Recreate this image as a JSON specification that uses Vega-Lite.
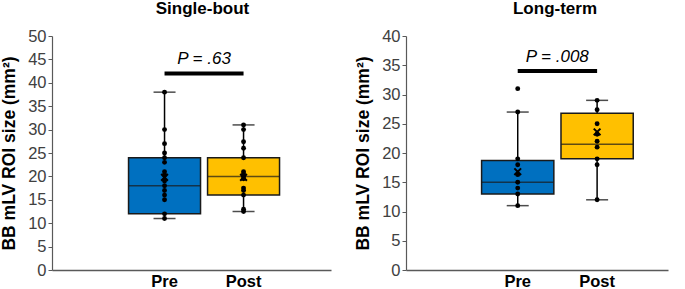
{
  "$schema": "https://vega.github.io/schema/vega-lite/v6.json",
  "background": "white",
  "padding": {"left": 0, "top": 0, "right": 5, "bottom": 0},
  "spacing": 23,
  "config": {
    "font": "Liberation Sans",
    "view": {"stroke": null},
    "axisY": {"grid": false, "domainColor": "#595959", "tickColor": "#595959", "tickSize": 4, "labelFont": "Liberation Sans", "labelFontSize": 16.5, "labelColor": "#404040", "labelPadding": 2, "titleFont": "Liberation Sans", "titleFontSize": 17.5, "titleFontWeight": "bold", "titleColor": "black", "titlePadding": 9, "domainWidth": 1.2},
    "axisX": {"grid": false, "domainColor": "#595959", "ticks": false, "labelFont": "Liberation Sans", "labelFontSize": 16.5, "labelFontWeight": "bold", "labelColor": "black", "labelPadding": 3, "labelAngle": 0, "title": null, "domainWidth": 1.5},
    "title": {"font": "Liberation Sans", "fontSize": 17, "fontWeight": "bold", "color": "black", "anchor": "middle"}
  },
  "datasets": {
    "pts": [
      {"panel": "Single-bout", "group": "Pre", "value": 38},
      {"panel": "Single-bout", "group": "Pre", "value": 30},
      {"panel": "Single-bout", "group": "Pre", "value": 27},
      {"panel": "Single-bout", "group": "Pre", "value": 25},
      {"panel": "Single-bout", "group": "Pre", "value": 24},
      {"panel": "Single-bout", "group": "Pre", "value": 23},
      {"panel": "Single-bout", "group": "Pre", "value": 21},
      {"panel": "Single-bout", "group": "Pre", "value": 20.3},
      {"panel": "Single-bout", "group": "Pre", "value": 19},
      {"panel": "Single-bout", "group": "Pre", "value": 18},
      {"panel": "Single-bout", "group": "Pre", "value": 17},
      {"panel": "Single-bout", "group": "Pre", "value": 16},
      {"panel": "Single-bout", "group": "Pre", "value": 15},
      {"panel": "Single-bout", "group": "Pre", "value": 12},
      {"panel": "Single-bout", "group": "Pre", "value": 11},
      {"panel": "Single-bout", "group": "Post", "value": 31},
      {"panel": "Single-bout", "group": "Post", "value": 30},
      {"panel": "Single-bout", "group": "Post", "value": 27.4},
      {"panel": "Single-bout", "group": "Post", "value": 26},
      {"panel": "Single-bout", "group": "Post", "value": 24},
      {"panel": "Single-bout", "group": "Post", "value": 21},
      {"panel": "Single-bout", "group": "Post", "value": 20.5},
      {"panel": "Single-bout", "group": "Post", "value": 20},
      {"panel": "Single-bout", "group": "Post", "value": 19.5},
      {"panel": "Single-bout", "group": "Post", "value": 17.5},
      {"panel": "Single-bout", "group": "Post", "value": 17},
      {"panel": "Single-bout", "group": "Post", "value": 16},
      {"panel": "Single-bout", "group": "Post", "value": 13},
      {"panel": "Single-bout", "group": "Post", "value": 12.5},
      {"panel": "Long-term", "group": "Pre", "value": 31},
      {"panel": "Long-term", "group": "Pre", "value": 27},
      {"panel": "Long-term", "group": "Pre", "value": 19},
      {"panel": "Long-term", "group": "Pre", "value": 18},
      {"panel": "Long-term", "group": "Pre", "value": 16.3},
      {"panel": "Long-term", "group": "Pre", "value": 15},
      {"panel": "Long-term", "group": "Pre", "value": 14},
      {"panel": "Long-term", "group": "Pre", "value": 13},
      {"panel": "Long-term", "group": "Pre", "value": 11},
      {"panel": "Long-term", "group": "Post", "value": 29},
      {"panel": "Long-term", "group": "Post", "value": 27.4},
      {"panel": "Long-term", "group": "Post", "value": 25},
      {"panel": "Long-term", "group": "Post", "value": 23.2},
      {"panel": "Long-term", "group": "Post", "value": 22},
      {"panel": "Long-term", "group": "Post", "value": 21},
      {"panel": "Long-term", "group": "Post", "value": 19},
      {"panel": "Long-term", "group": "Post", "value": 18},
      {"panel": "Long-term", "group": "Post", "value": 12}
    ],
    "box": [
      {"panel": "Single-bout", "group": "Pre", "min": 11, "q1": 12, "median": 18, "q3": 24, "max": 38, "mean": 19.8},
      {"panel": "Single-bout", "group": "Post", "min": 12.5, "q1": 16, "median": 20, "q3": 24, "max": 31, "mean": 19.8},
      {"panel": "Long-term", "group": "Pre", "min": 11, "q1": 13, "median": 15, "q3": 18.7, "max": 27, "mean": 16.8},
      {"panel": "Long-term", "group": "Post", "min": 12, "q1": 19, "median": 21.5, "q3": 26.8, "max": 29, "mean": 23.6}
    ],
    "pv": [
      {"panel": "Single-bout", "from": "Pre", "to": "Post", "y": 42, "label": "P = .63"},
      {"panel": "Long-term", "from": "Pre", "to": "Post", "y": 34, "label": "P = .008"}
    ]
  },
  "hconcat": [
    {
      "title": {"text": "Single-bout", "dx": 11, "offset": 10},
      "width": 279,
      "height": 234,
      "encoding": {
        "x": {"field": "group", "type": "nominal", "sort": ["Pre", "Post"],
          "scale": {"domain": ["Pre", "Post"], "paddingInner": 0.089, "paddingOuter": 0.81, "align": 0.598}},
        "y": {"type": "quantitative", "scale": {"domain": [0, 50], "nice": false},
          "axis": {"values": [0, 5, 10, 15, 20, 25, 30, 35, 40, 45, 50], "title": "BB mLV ROI size (mm²)"}}
      },
      "layer": [
        {"data": {"name": "box"}, "transform": [{"filter": "datum.panel === 'Single-bout'"}],
          "mark": {"type": "rule", "color": "black", "strokeWidth": 1.5},
          "encoding": {"y": {"field": "min", "type": "quantitative"}, "y2": {"field": "max"}}},
        {"data": {"name": "box"}, "transform": [{"filter": "datum.panel === 'Single-bout'"}],
          "mark": {"type": "tick", "color": "black", "thickness": 1.5, "size": 22},
          "encoding": {"y": {"field": "min", "type": "quantitative"}}},
        {"data": {"name": "box"}, "transform": [{"filter": "datum.panel === 'Single-bout'"}],
          "mark": {"type": "tick", "color": "black", "thickness": 1.5, "size": 22},
          "encoding": {"y": {"field": "max", "type": "quantitative"}}},
        {"data": {"name": "box"}, "transform": [{"filter": "datum.panel === 'Single-bout'"}],
          "mark": {"type": "bar", "stroke": "#1a1a1a", "strokeWidth": 1.5},
          "encoding": {"y": {"field": "q1", "type": "quantitative"}, "y2": {"field": "q3"},
            "color": {"field": "group", "type": "nominal", "scale": {"domain": ["Pre", "Post"], "range": ["#0070C0", "#FFC000"]}, "legend": null}}},
        {"data": {"name": "box"}, "transform": [{"filter": "datum.panel === 'Single-bout'"}],
          "mark": {"type": "tick", "color": "#1a1a1a", "thickness": 1.5, "size": 72},
          "encoding": {"y": {"field": "median", "type": "quantitative"}}},
        {"data": {"name": "pts"}, "transform": [{"filter": "datum.panel === 'Single-bout'"}],
          "mark": {"type": "circle", "color": "black", "opacity": 1, "size": 24},
          "encoding": {"y": {"field": "value", "type": "quantitative"}}},
        {"data": {"name": "box"}, "transform": [{"filter": "datum.panel === 'Single-bout'"}],
          "mark": {"type": "point", "shape": "M-1,-1L1,1M-1,1L1,-1", "filled": false, "color": "black", "strokeWidth": 2, "size": 45, "opacity": 1},
          "encoding": {"y": {"field": "mean", "type": "quantitative"}}},
        {"data": {"name": "pv"}, "transform": [{"filter": "datum.panel === 'Single-bout'"}],
          "mark": {"type": "rule", "color": "black", "strokeWidth": 4},
          "encoding": {"x": {"field": "from", "type": "nominal"}, "x2": {"field": "to"}, "y": {"field": "y", "type": "quantitative"}}},
        {"data": {"name": "pv"}, "transform": [{"filter": "datum.panel === 'Single-bout'"}],
          "mark": {"type": "text", "fontStyle": "italic", "fontSize": 17, "color": "black", "dx": 39.5, "dy": -14, "align": "center", "baseline": "middle"},
          "encoding": {"x": {"field": "from", "type": "nominal"}, "y": {"field": "y", "type": "quantitative"}, "text": {"field": "label"}}}
      ]
    },
    {
      "title": {"text": "Long-term", "dx": 18, "offset": 10},
      "width": 262,
      "height": 234,
      "encoding": {
        "x": {"field": "group", "type": "nominal", "sort": ["Pre", "Post"],
          "scale": {"domain": ["Pre", "Post"], "paddingInner": 0.09, "paddingOuter": 0.695, "align": 0.685}},
        "y": {"type": "quantitative", "scale": {"domain": [0, 40], "nice": false},
          "axis": {"values": [0, 5, 10, 15, 20, 25, 30, 35, 40], "title": "BB mLV ROI size (mm²)"}}
      },
      "layer": [
        {"data": {"name": "box"}, "transform": [{"filter": "datum.panel === 'Long-term'"}],
          "mark": {"type": "rule", "color": "black", "strokeWidth": 1.5},
          "encoding": {"y": {"field": "min", "type": "quantitative"}, "y2": {"field": "max"}}},
        {"data": {"name": "box"}, "transform": [{"filter": "datum.panel === 'Long-term'"}],
          "mark": {"type": "tick", "color": "black", "thickness": 1.5, "size": 22},
          "encoding": {"y": {"field": "min", "type": "quantitative"}}},
        {"data": {"name": "box"}, "transform": [{"filter": "datum.panel === 'Long-term'"}],
          "mark": {"type": "tick", "color": "black", "thickness": 1.5, "size": 22},
          "encoding": {"y": {"field": "max", "type": "quantitative"}}},
        {"data": {"name": "box"}, "transform": [{"filter": "datum.panel === 'Long-term'"}],
          "mark": {"type": "bar", "stroke": "#1a1a1a", "strokeWidth": 1.5},
          "encoding": {"y": {"field": "q1", "type": "quantitative"}, "y2": {"field": "q3"},
            "color": {"field": "group", "type": "nominal", "scale": {"domain": ["Pre", "Post"], "range": ["#0070C0", "#FFC000"]}, "legend": null}}},
        {"data": {"name": "box"}, "transform": [{"filter": "datum.panel === 'Long-term'"}],
          "mark": {"type": "tick", "color": "#1a1a1a", "thickness": 1.5, "size": 72},
          "encoding": {"y": {"field": "median", "type": "quantitative"}}},
        {"data": {"name": "pts"}, "transform": [{"filter": "datum.panel === 'Long-term'"}],
          "mark": {"type": "circle", "color": "black", "opacity": 1, "size": 24},
          "encoding": {"y": {"field": "value", "type": "quantitative"}}},
        {"data": {"name": "box"}, "transform": [{"filter": "datum.panel === 'Long-term'"}],
          "mark": {"type": "point", "shape": "M-1,-1L1,1M-1,1L1,-1", "filled": false, "color": "black", "strokeWidth": 2, "size": 45, "opacity": 1},
          "encoding": {"y": {"field": "mean", "type": "quantitative"}}},
        {"data": {"name": "pv"}, "transform": [{"filter": "datum.panel === 'Long-term'"}],
          "mark": {"type": "rule", "color": "black", "strokeWidth": 4},
          "encoding": {"x": {"field": "from", "type": "nominal"}, "x2": {"field": "to"}, "y": {"field": "y", "type": "quantitative"}}},
        {"data": {"name": "pv"}, "transform": [{"filter": "datum.panel === 'Long-term'"}],
          "mark": {"type": "text", "fontStyle": "italic", "fontSize": 17, "color": "black", "dx": 39.5, "dy": -14, "align": "center", "baseline": "middle"},
          "encoding": {"x": {"field": "from", "type": "nominal"}, "y": {"field": "y", "type": "quantitative"}, "text": {"field": "label"}}}
      ]
    }
  ]
}
